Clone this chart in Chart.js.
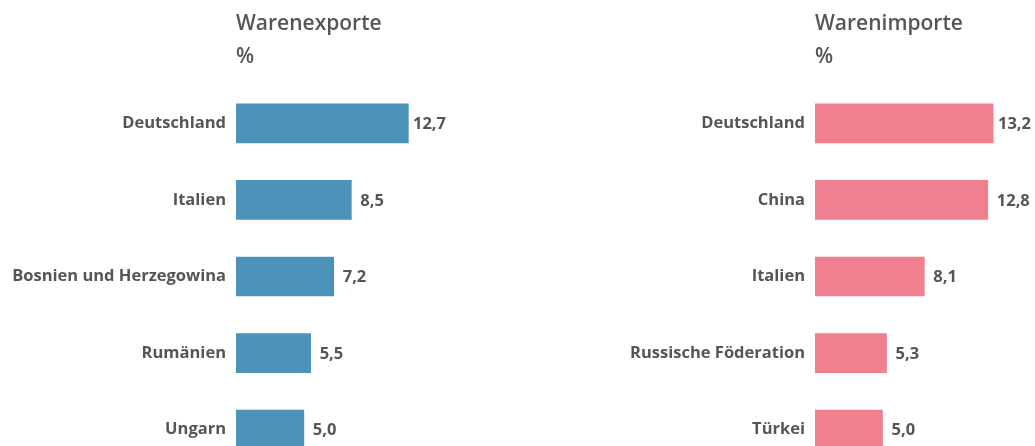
<!DOCTYPE html>
<html>
<head>
<meta charset="utf-8">
<script src="https://cdn.jsdelivr.net/npm/chart.js@4"></script>
<style>
  html, body { margin: 0; padding: 0; background: #fff; overflow: hidden; }
  #page { position: relative; width: 1035px; height: 446px; overflow: hidden; }
  .panel { position: absolute; top: 0; }
  .title {
    position: absolute; top: 6px;
    font-family: "Open Sans", sans-serif; font-weight: 600;
    font-size: 21px; line-height: 33px; color: #555;
  }
</style>
</head>
<body>
<div id="page">
  <div class="panel" style="left:0">
    <div class="title" style="left:236px">Warenexporte<br>%</div>
    <canvas id="exports" width="450" height="468"></canvas>
  </div>
  <div class="panel" style="left:580px">
    <div class="title" style="left:235px">Warenimporte<br>%</div>
    <canvas id="imports" width="455" height="468"></canvas>
  </div>
</div>
<script>
const exportLabels = ['Deutschland', 'Italien', 'Bosnien und Herzegowina', 'Rumänien', 'Ungarn'];
const exportValues = [12.7, 8.5, 7.2, 5.5, 5.0];

const importLabels = ['Deutschland', 'China', 'Italien', 'Russische Föderation', 'Türkei'];
const importValues = [13.2, 12.8, 8.1, 5.3, 5.0];

const textColor = '#555555';
const fontFamily = '"Open Sans", sans-serif';

// draws the value right of each bar, pushed back in if it would leave the canvas
const valueLabels = {
    id: 'valueLabels',
    afterDatasetsDraw(chart) {
        const ctx = chart.ctx;
        const meta = chart.getDatasetMeta(0);
        const values = chart.data.datasets[0].data;
        ctx.save();
        ctx.font = 'bold 16.5px ' + fontFamily;
        ctx.fillStyle = textColor;
        ctx.textBaseline = 'middle';
        ctx.textAlign = 'left';
        meta.data.forEach((bar, i) => {
            const txt = values[i].toFixed(1).replace('.', ',');
            const w = ctx.measureText(txt).width;
            let x = bar.x + 9;
            if (x + w > chart.width - 4) x = chart.width - 4 - w;
            ctx.fillText(txt, x, bar.y + 1);
        });
        ctx.restore();
    }
};

function drawBars(id, labels, values, color, axisWidth, padRight){
    const config = {
        type: 'bar',
        data: {
            labels: labels,
            datasets: [{
                data: values,
                backgroundColor: color,
                barThickness: 39
            }]
        },
        options: {
            indexAxis: 'y',
            animation: false,
            responsive: false,
            layout: { padding: { top: 85, right: padRight, bottom: 0, left: 0 } },
            plugins: {
                legend: { display: false },
                tooltip: { enabled: false }
            },
            scales: {
                x: { display: false, min: 0, max: 14 },
                y: {
                    grid: { display: false, drawTicks: false },
                    border: { display: false },
                    ticks: {
                        padding: 10,
                        color: textColor,
                        font: { family: fontFamily, size: 16.5, weight: 'bold' }
                    },
                    afterFit(scale) {
                        scale.width = axisWidth;
                        // no extra room for the first/last label, bars use the full height
                        scale.paddingTop = 0;
                        scale.paddingBottom = 0;
                    }
                }
            }
        },
        plugins: [valueLabels]
    };
    return new Chart(document.getElementById(id), config);
}

drawBars('exports', exportLabels, exportValues, 'rgb(77, 146, 184)', 236, 24);
drawBars('imports', importLabels, importValues, 'rgb(240, 128, 144)', 235, 31);
</script>
</body>
</html>
